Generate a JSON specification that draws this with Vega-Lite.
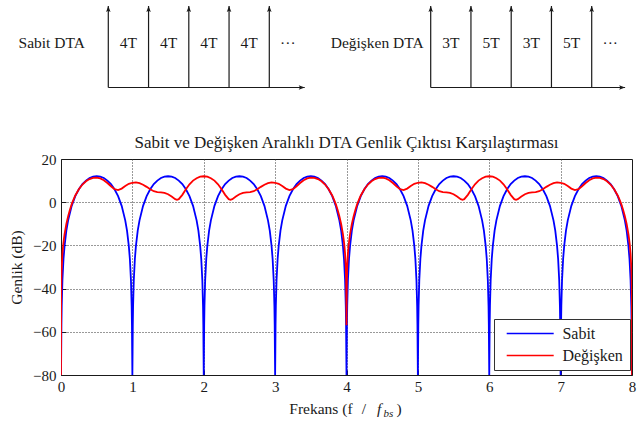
{
  "$schema": "https://vega.github.io/schema/vega-lite/v6.json",
  "autosize": {"type": "none"},
  "padding": {"left": 61, "top": 159, "right": 12, "bottom": 50},
  "width": 571,
  "height": 216,
  "background": "white",
  "config": {
    "font": "Liberation Serif",
    "view": {"stroke": "#1a1a1a", "strokeWidth": 1}
  },
  "datasets": {
    "sabit": [
      {"f":0,"dB":-80},{"f":0.003,"dB":-69},{"f":0.006,"dB":-56.9},{"f":0.01,"dB":-48.1},{"f":0.02,"dB":-36},{"f":0.035,"dB":-26.3},{"f":0.05,"dB":-20.2},{"f":0.075,"dB":-13.2},{"f":0.1,"dB":-8.4},{"f":0.15,"dB":-1.7},{"f":0.2,"dB":2.8},{"f":0.25,"dB":6},{"f":0.3,"dB":8.4},{"f":0.35,"dB":10},{"f":0.4,"dB":11.2},{"f":0.45,"dB":11.8},{"f":0.5,"dB":12},{"f":0.55,"dB":11.8},{"f":0.6,"dB":11.2},{"f":0.65,"dB":10},{"f":0.7,"dB":8.4},{"f":0.75,"dB":6},{"f":0.8,"dB":2.8},{"f":0.85,"dB":-1.7},{"f":0.9,"dB":-8.4},{"f":0.925,"dB":-13.2},{"f":0.95,"dB":-20.2},{"f":0.965,"dB":-26.3},{"f":0.98,"dB":-36},{"f":0.99,"dB":-48.1},{"f":0.994,"dB":-56.9},{"f":0.997,"dB":-69},
      {"f":1,"dB":-80},{"f":1.003,"dB":-69},{"f":1.006,"dB":-56.9},{"f":1.01,"dB":-48.1},{"f":1.02,"dB":-36},{"f":1.035,"dB":-26.3},{"f":1.05,"dB":-20.2},{"f":1.075,"dB":-13.2},{"f":1.1,"dB":-8.4},{"f":1.15,"dB":-1.7},{"f":1.2,"dB":2.8},{"f":1.25,"dB":6},{"f":1.3,"dB":8.4},{"f":1.35,"dB":10},{"f":1.4,"dB":11.2},{"f":1.45,"dB":11.8},{"f":1.5,"dB":12},{"f":1.55,"dB":11.8},{"f":1.6,"dB":11.2},{"f":1.65,"dB":10},{"f":1.7,"dB":8.4},{"f":1.75,"dB":6},{"f":1.8,"dB":2.8},{"f":1.85,"dB":-1.7},{"f":1.9,"dB":-8.4},{"f":1.925,"dB":-13.2},{"f":1.95,"dB":-20.2},{"f":1.965,"dB":-26.3},{"f":1.98,"dB":-36},{"f":1.99,"dB":-48.1},{"f":1.994,"dB":-56.9},{"f":1.997,"dB":-69},
      {"f":2,"dB":-80},{"f":2.003,"dB":-69},{"f":2.006,"dB":-56.9},{"f":2.01,"dB":-48.1},{"f":2.02,"dB":-36},{"f":2.035,"dB":-26.3},{"f":2.05,"dB":-20.2},{"f":2.075,"dB":-13.2},{"f":2.1,"dB":-8.4},{"f":2.15,"dB":-1.7},{"f":2.2,"dB":2.8},{"f":2.25,"dB":6},{"f":2.3,"dB":8.4},{"f":2.35,"dB":10},{"f":2.4,"dB":11.2},{"f":2.45,"dB":11.8},{"f":2.5,"dB":12},{"f":2.55,"dB":11.8},{"f":2.6,"dB":11.2},{"f":2.65,"dB":10},{"f":2.7,"dB":8.4},{"f":2.75,"dB":6},{"f":2.8,"dB":2.8},{"f":2.85,"dB":-1.7},{"f":2.9,"dB":-8.4},{"f":2.925,"dB":-13.2},{"f":2.95,"dB":-20.2},{"f":2.965,"dB":-26.3},{"f":2.98,"dB":-36},{"f":2.99,"dB":-48.1},{"f":2.994,"dB":-56.9},{"f":2.997,"dB":-69},
      {"f":3,"dB":-80},{"f":3.003,"dB":-69},{"f":3.006,"dB":-56.9},{"f":3.01,"dB":-48.1},{"f":3.02,"dB":-36},{"f":3.035,"dB":-26.3},{"f":3.05,"dB":-20.2},{"f":3.075,"dB":-13.2},{"f":3.1,"dB":-8.4},{"f":3.15,"dB":-1.7},{"f":3.2,"dB":2.8},{"f":3.25,"dB":6},{"f":3.3,"dB":8.4},{"f":3.35,"dB":10},{"f":3.4,"dB":11.2},{"f":3.45,"dB":11.8},{"f":3.5,"dB":12},{"f":3.55,"dB":11.8},{"f":3.6,"dB":11.2},{"f":3.65,"dB":10},{"f":3.7,"dB":8.4},{"f":3.75,"dB":6},{"f":3.8,"dB":2.8},{"f":3.85,"dB":-1.7},{"f":3.9,"dB":-8.4},{"f":3.925,"dB":-13.2},{"f":3.95,"dB":-20.2},{"f":3.965,"dB":-26.3},{"f":3.98,"dB":-36},{"f":3.99,"dB":-48.1},{"f":3.994,"dB":-56.9},{"f":3.997,"dB":-69},
      {"f":4,"dB":-80},{"f":4.003,"dB":-69},{"f":4.006,"dB":-56.9},{"f":4.01,"dB":-48.1},{"f":4.02,"dB":-36},{"f":4.035,"dB":-26.3},{"f":4.05,"dB":-20.2},{"f":4.075,"dB":-13.2},{"f":4.1,"dB":-8.4},{"f":4.15,"dB":-1.7},{"f":4.2,"dB":2.8},{"f":4.25,"dB":6},{"f":4.3,"dB":8.4},{"f":4.35,"dB":10},{"f":4.4,"dB":11.2},{"f":4.45,"dB":11.8},{"f":4.5,"dB":12},{"f":4.55,"dB":11.8},{"f":4.6,"dB":11.2},{"f":4.65,"dB":10},{"f":4.7,"dB":8.4},{"f":4.75,"dB":6},{"f":4.8,"dB":2.8},{"f":4.85,"dB":-1.7},{"f":4.9,"dB":-8.4},{"f":4.925,"dB":-13.2},{"f":4.95,"dB":-20.2},{"f":4.965,"dB":-26.3},{"f":4.98,"dB":-36},{"f":4.99,"dB":-48.1},{"f":4.994,"dB":-56.9},{"f":4.997,"dB":-69},
      {"f":5,"dB":-80},{"f":5.003,"dB":-69},{"f":5.006,"dB":-56.9},{"f":5.01,"dB":-48.1},{"f":5.02,"dB":-36},{"f":5.035,"dB":-26.3},{"f":5.05,"dB":-20.2},{"f":5.075,"dB":-13.2},{"f":5.1,"dB":-8.4},{"f":5.15,"dB":-1.7},{"f":5.2,"dB":2.8},{"f":5.25,"dB":6},{"f":5.3,"dB":8.4},{"f":5.35,"dB":10},{"f":5.4,"dB":11.2},{"f":5.45,"dB":11.8},{"f":5.5,"dB":12},{"f":5.55,"dB":11.8},{"f":5.6,"dB":11.2},{"f":5.65,"dB":10},{"f":5.7,"dB":8.4},{"f":5.75,"dB":6},{"f":5.8,"dB":2.8},{"f":5.85,"dB":-1.7},{"f":5.9,"dB":-8.4},{"f":5.925,"dB":-13.2},{"f":5.95,"dB":-20.2},{"f":5.965,"dB":-26.3},{"f":5.98,"dB":-36},{"f":5.99,"dB":-48.1},{"f":5.994,"dB":-56.9},{"f":5.997,"dB":-69},
      {"f":6,"dB":-80},{"f":6.003,"dB":-69},{"f":6.006,"dB":-56.9},{"f":6.01,"dB":-48.1},{"f":6.02,"dB":-36},{"f":6.035,"dB":-26.3},{"f":6.05,"dB":-20.2},{"f":6.075,"dB":-13.2},{"f":6.1,"dB":-8.4},{"f":6.15,"dB":-1.7},{"f":6.2,"dB":2.8},{"f":6.25,"dB":6},{"f":6.3,"dB":8.4},{"f":6.35,"dB":10},{"f":6.4,"dB":11.2},{"f":6.45,"dB":11.8},{"f":6.5,"dB":12},{"f":6.55,"dB":11.8},{"f":6.6,"dB":11.2},{"f":6.65,"dB":10},{"f":6.7,"dB":8.4},{"f":6.75,"dB":6},{"f":6.8,"dB":2.8},{"f":6.85,"dB":-1.7},{"f":6.9,"dB":-8.4},{"f":6.925,"dB":-13.2},{"f":6.95,"dB":-20.2},{"f":6.965,"dB":-26.3},{"f":6.98,"dB":-36},{"f":6.99,"dB":-48.1},{"f":6.994,"dB":-56.9},{"f":6.997,"dB":-69},
      {"f":7,"dB":-80},{"f":7.003,"dB":-69},{"f":7.006,"dB":-56.9},{"f":7.01,"dB":-48.1},{"f":7.02,"dB":-36},{"f":7.035,"dB":-26.3},{"f":7.05,"dB":-20.2},{"f":7.075,"dB":-13.2},{"f":7.1,"dB":-8.4},{"f":7.15,"dB":-1.7},{"f":7.2,"dB":2.8},{"f":7.25,"dB":6},{"f":7.3,"dB":8.4},{"f":7.35,"dB":10},{"f":7.4,"dB":11.2},{"f":7.45,"dB":11.8},{"f":7.5,"dB":12},{"f":7.55,"dB":11.8},{"f":7.6,"dB":11.2},{"f":7.65,"dB":10},{"f":7.7,"dB":8.4},{"f":7.75,"dB":6},{"f":7.8,"dB":2.8},{"f":7.85,"dB":-1.7},{"f":7.9,"dB":-8.4},{"f":7.925,"dB":-13.2},{"f":7.95,"dB":-20.2},{"f":7.965,"dB":-26.3},{"f":7.98,"dB":-36},{"f":7.99,"dB":-48.1},{"f":7.994,"dB":-56.9},{"f":7.997,"dB":-69},
      {"f":8,"dB":-80}
    ],
    "degisken": [
      {"f":0,"dB":-80},{"f":0.001,"dB":-50.1},{"f":0.005,"dB":-36.1},{"f":0.01,"dB":-30},{"f":0.02,"dB":-23.8},{"f":0.03,"dB":-20},{"f":0.04,"dB":-17.2},{"f":0.05,"dB":-14.8},{"f":0.075,"dB":-10.1},{"f":0.1,"dB":-6.5},{"f":0.125,"dB":-3.5},{"f":0.15,"dB":-0.9},{"f":0.175,"dB":1.2},{"f":0.2,"dB":3.1},{"f":0.25,"dB":6},{"f":0.3,"dB":8.2},{"f":0.35,"dB":9.7},{"f":0.4,"dB":10.7},{"f":0.45,"dB":11.3},{"f":0.5,"dB":11.4},{"f":0.55,"dB":11},{"f":0.6,"dB":10.2},{"f":0.65,"dB":8.9},{"f":0.7,"dB":7.4},{"f":0.75,"dB":6},{"f":0.8,"dB":5.6},{"f":0.85,"dB":6.3},{"f":0.9,"dB":7.5},{"f":0.95,"dB":8.5},{"f":1,"dB":9},{"f":1.05,"dB":9.2},{"f":1.1,"dB":8.8},{"f":1.15,"dB":8.1},{"f":1.2,"dB":7.1},{"f":1.25,"dB":6},{"f":1.3,"dB":5.1},{"f":1.35,"dB":4.7},{"f":1.4,"dB":4.5},{"f":1.45,"dB":4.3},{"f":1.5,"dB":3.7},{"f":1.55,"dB":2.6},{"f":1.6,"dB":1.4},{"f":1.625,"dB":1.1},{"f":1.65,"dB":1.4},{"f":1.7,"dB":3.4},{"f":1.75,"dB":6},{"f":1.8,"dB":8.3},{"f":1.85,"dB":10},{"f":1.9,"dB":11.1},{"f":1.95,"dB":11.8},{"f":2,"dB":12},
      {"f":2.05,"dB":11.8},{"f":2.1,"dB":11.1},{"f":2.15,"dB":10},{"f":2.2,"dB":8.3},{"f":2.25,"dB":6},{"f":2.3,"dB":3.4},{"f":2.35,"dB":1.4},{"f":2.375,"dB":1.1},{"f":2.4,"dB":1.4},{"f":2.45,"dB":2.6},{"f":2.5,"dB":3.7},{"f":2.55,"dB":4.3},{"f":2.6,"dB":4.5},{"f":2.65,"dB":4.7},{"f":2.7,"dB":5.1},{"f":2.75,"dB":6},{"f":2.8,"dB":7.1},{"f":2.85,"dB":8.1},{"f":2.9,"dB":8.8},{"f":2.95,"dB":9.2},{"f":3,"dB":9},{"f":3.05,"dB":8.5},{"f":3.1,"dB":7.5},{"f":3.15,"dB":6.3},{"f":3.2,"dB":5.6},{"f":3.25,"dB":6},{"f":3.3,"dB":7.4},{"f":3.35,"dB":8.9},{"f":3.4,"dB":10.2},{"f":3.45,"dB":11},{"f":3.5,"dB":11.4},{"f":3.55,"dB":11.3},{"f":3.6,"dB":10.7},{"f":3.65,"dB":9.7},{"f":3.7,"dB":8.2},{"f":3.75,"dB":6},{"f":3.8,"dB":3.1},{"f":3.825,"dB":1.2},{"f":3.85,"dB":-0.9},{"f":3.875,"dB":-3.5},{"f":3.9,"dB":-6.5},{"f":3.925,"dB":-10.1},{"f":3.95,"dB":-14.8},{"f":3.96,"dB":-17.2},{"f":3.97,"dB":-20},{"f":3.98,"dB":-23.8},{"f":3.99,"dB":-30},{"f":3.995,"dB":-36.1},{"f":3.999,"dB":-50.1},{"f":4,"dB":-57},
      {"f":4.001,"dB":-50.1},{"f":4.005,"dB":-36.1},{"f":4.01,"dB":-30},{"f":4.02,"dB":-23.8},{"f":4.03,"dB":-20},{"f":4.04,"dB":-17.2},{"f":4.05,"dB":-14.8},{"f":4.075,"dB":-10.1},{"f":4.1,"dB":-6.5},{"f":4.125,"dB":-3.5},{"f":4.15,"dB":-0.9},{"f":4.175,"dB":1.2},{"f":4.2,"dB":3.1},{"f":4.25,"dB":6},{"f":4.3,"dB":8.2},{"f":4.35,"dB":9.7},{"f":4.4,"dB":10.7},{"f":4.45,"dB":11.3},{"f":4.5,"dB":11.4},{"f":4.55,"dB":11},{"f":4.6,"dB":10.2},{"f":4.65,"dB":8.9},{"f":4.7,"dB":7.4},{"f":4.75,"dB":6},{"f":4.8,"dB":5.6},{"f":4.85,"dB":6.3},{"f":4.9,"dB":7.5},{"f":4.95,"dB":8.5},{"f":5,"dB":9},{"f":5.05,"dB":9.2},{"f":5.1,"dB":8.8},{"f":5.15,"dB":8.1},{"f":5.2,"dB":7.1},{"f":5.25,"dB":6},{"f":5.3,"dB":5.1},{"f":5.35,"dB":4.7},{"f":5.4,"dB":4.5},{"f":5.45,"dB":4.3},{"f":5.5,"dB":3.7},{"f":5.55,"dB":2.6},{"f":5.6,"dB":1.4},{"f":5.625,"dB":1.1},{"f":5.65,"dB":1.4},{"f":5.7,"dB":3.4},{"f":5.75,"dB":6},{"f":5.8,"dB":8.3},{"f":5.85,"dB":10},{"f":5.9,"dB":11.1},{"f":5.95,"dB":11.8},{"f":6,"dB":12},
      {"f":6.05,"dB":11.8},{"f":6.1,"dB":11.1},{"f":6.15,"dB":10},{"f":6.2,"dB":8.3},{"f":6.25,"dB":6},{"f":6.3,"dB":3.4},{"f":6.35,"dB":1.4},{"f":6.375,"dB":1.1},{"f":6.4,"dB":1.4},{"f":6.45,"dB":2.6},{"f":6.5,"dB":3.7},{"f":6.55,"dB":4.3},{"f":6.6,"dB":4.5},{"f":6.65,"dB":4.7},{"f":6.7,"dB":5.1},{"f":6.75,"dB":6},{"f":6.8,"dB":7.1},{"f":6.85,"dB":8.1},{"f":6.9,"dB":8.8},{"f":6.95,"dB":9.2},{"f":7,"dB":9},{"f":7.05,"dB":8.5},{"f":7.1,"dB":7.5},{"f":7.15,"dB":6.3},{"f":7.2,"dB":5.6},{"f":7.25,"dB":6},{"f":7.3,"dB":7.4},{"f":7.35,"dB":8.9},{"f":7.4,"dB":10.2},{"f":7.45,"dB":11},{"f":7.5,"dB":11.4},{"f":7.55,"dB":11.3},{"f":7.6,"dB":10.7},{"f":7.65,"dB":9.7},{"f":7.7,"dB":8.2},{"f":7.75,"dB":6},{"f":7.8,"dB":3.1},{"f":7.825,"dB":1.2},{"f":7.85,"dB":-0.9},{"f":7.875,"dB":-3.5},{"f":7.9,"dB":-6.5},{"f":7.925,"dB":-10.1},{"f":7.95,"dB":-14.8},{"f":7.96,"dB":-17.2},{"f":7.97,"dB":-20},{"f":7.98,"dB":-23.8},{"f":7.99,"dB":-30},{"f":7.995,"dB":-36.1},{"f":7.999,"dB":-50.1},{"f":8,"dB":-80}
    ],
    "sabitDarbe": [{"an":0},{"an":1},{"an":2},{"an":3},{"an":4}],
    "sabitAralik": [{"an":0.5,"etiket":"4T"},{"an":1.5,"etiket":"4T"},{"an":2.5,"etiket":"4T"},{"an":3.5,"etiket":"4T"},{"an":4.46,"etiket":"···"}],
    "degiskenDarbe": [{"an":0},{"an":1},{"an":2},{"an":3},{"an":4}],
    "degiskenAralik": [{"an":0.5,"etiket":"3T"},{"an":1.5,"etiket":"5T"},{"an":2.5,"etiket":"3T"},{"an":3.5,"etiket":"5T"},{"an":4.46,"etiket":"···"}]
  },
  "layer": [
    {
      "layer": [
        {
          "data": {"name": "sabit"},
          "mark": {"type": "line", "strokeWidth": 1.8, "clip": true},
          "encoding": {
            "x": {
              "field": "f", "type": "quantitative",
              "scale": {"domain": [0, 8], "nice": false, "zero": false},
              "axis": {
                "values": [0, 1, 2, 3, 4, 5, 6, 7, 8], "format": "d", "title": null,
                "domain": false, "tickSize": -5, "tickColor": "#1a1a1a", "labelPadding": 9,
                "labelFont": "Liberation Serif", "labelFontSize": 15, "labelColor": "#1a1a1a", "labelFlush": false, "labelAngle": 0,
                "grid": true, "gridColor": "#333", "gridDash": [1, 2], "gridWidth": 1,
                "gridOpacity": {"condition": {"test": "datum.value === 0 || datum.value === 8", "value": 0}, "value": 1}
              }
            },
            "y": {
              "field": "dB", "type": "quantitative",
              "scale": {"domain": [-80, 20], "nice": false, "zero": false},
              "axis": {
                "values": [-80, -60, -40, -20, 0, 20], "format": "d", "title": "Genlik (dB)",
                "titleFont": "Liberation Serif", "titleFontSize": 15.5, "titleFontWeight": "normal", "titleColor": "#1a1a1a", "titlePadding": 8,
                "domain": false, "tickSize": -5, "tickColor": "#1a1a1a", "labelPadding": 10,
                "labelFont": "Liberation Serif", "labelFontSize": 15, "labelColor": "#1a1a1a", "labelFlush": false,
                "grid": true, "gridColor": "#333", "gridDash": [1, 2], "gridWidth": 1,
                "gridOpacity": {"condition": {"test": "datum.value === 20 || datum.value === -80", "value": 0}, "value": 1}
              }
            },
            "color": {
              "datum": "Sabit", "type": "nominal",
              "scale": {"domain": ["Sabit", "Değişken"], "range": ["#0000ff", "#ff0000"]},
              "legend": {
                "orient": "none", "legendX": 433, "legendY": 160, "title": null,
                "symbolType": "M-4.7,0L4.7,0", "symbolSize": 100, "symbolOffset": 21.7, "symbolStrokeWidth": 1.7,
                "labelOffset": 24.2, "padding": 6.5, "rowPadding": 6,
                "strokeColor": "#333", "fillColor": "white",
                "labelFont": "Liberation Serif", "labelFontSize": 16, "labelColor": "#1a1a1a"
              }
            }
          }
        },
        {
          "data": {"name": "degisken"},
          "mark": {"type": "line", "strokeWidth": 1.8, "clip": true},
          "encoding": {
            "x": {"field": "f", "type": "quantitative"},
            "y": {"field": "dB", "type": "quantitative"},
            "color": {"datum": "Değişken", "type": "nominal"}
          }
        },
        {
          "data": {"values": [{}]},
          "mark": {"type": "text", "text": "Sabit ve Değişken Aralıklı DTA Genlik Çıktısı Karşılaştırması", "font": "Liberation Serif", "align": "center", "baseline": "alphabetic", "fontSize": 17, "color": "#1a1a1a"},
          "encoding": {"x": {"datum": 4}, "y": {"datum": 25.1}}
        },
        {
          "data": {"values": [{}]},
          "mark": {"type": "text", "text": "Frekans (f", "font": "Liberation Serif", "align": "left", "baseline": "alphabetic", "fontSize": 15.5, "color": "#1a1a1a"},
          "encoding": {"x": {"datum": 3.199}, "y": {"datum": -98.06}}
        },
        {
          "data": {"values": [{}]},
          "mark": {"type": "text", "text": "/", "font": "Liberation Serif", "align": "center", "baseline": "alphabetic", "fontSize": 15.5, "color": "#1a1a1a"},
          "encoding": {"x": {"datum": 4.245}, "y": {"datum": -98.06}}
        },
        {
          "data": {"values": [{}]},
          "mark": {"type": "text", "text": "f", "font": "Liberation Serif", "align": "left", "baseline": "alphabetic", "fontSize": 15.5, "fontStyle": "italic", "color": "#1a1a1a"},
          "encoding": {"x": {"datum": 4.427}, "y": {"datum": -98.06}}
        },
        {
          "data": {"values": [{}]},
          "mark": {"type": "text", "text": "bs", "font": "Liberation Serif", "align": "left", "baseline": "alphabetic", "fontSize": 11, "fontStyle": "italic", "color": "#1a1a1a"},
          "encoding": {"x": {"datum": 4.518}, "y": {"datum": -99.44}}
        },
        {
          "data": {"values": [{}]},
          "mark": {"type": "text", "text": ")", "font": "Liberation Serif", "align": "left", "baseline": "alphabetic", "fontSize": 15.5, "color": "#1a1a1a"},
          "encoding": {"x": {"datum": 4.7}, "y": {"datum": -98.06}}
        }
      ]
    },
    {
      "data": {"name": "sabitDarbe"},
      "layer": [
        {
          "mark": {"type": "rule", "color": "#1a1a1a", "strokeWidth": 1.2},
          "encoding": {
            "x": {"field": "an", "type": "quantitative", "scale": {"domain": [-1.1752, 13.0111], "nice": false, "zero": false}, "axis": null},
            "y": {"datum": 0, "type": "quantitative", "scale": {"domain": [-3.5276, -0.8773], "nice": false, "zero": false}, "axis": null},
            "y2": {"datum": 1}
          }
        },
        {
          "mark": {"type": "point", "shape": "M0,0L-0.45,1.2L0,0.95L0.45,1.2Z", "filled": true, "size": 100, "color": "#1a1a1a", "opacity": 1},
          "encoding": {"x": {"field": "an", "type": "quantitative"}, "y": {"datum": 1, "type": "quantitative"}}
        },
        {
          "data": {"values": [{}]},
          "mark": {"type": "rule", "color": "#1a1a1a", "strokeWidth": 1.2},
          "encoding": {"x": {"datum": 0, "type": "quantitative"}, "x2": {"datum": 4.88}, "y": {"datum": 0, "type": "quantitative"}}
        },
        {
          "data": {"values": [{}]},
          "mark": {"type": "point", "shape": "M0,0L-0.45,1.2L0,0.95L0.45,1.2Z", "filled": true, "size": 100, "color": "#1a1a1a", "opacity": 1, "angle": 90},
          "encoding": {"x": {"datum": 4.88, "type": "quantitative"}, "y": {"datum": 0, "type": "quantitative"}}
        },
        {
          "data": {"name": "sabitAralik"},
          "mark": {"type": "text", "font": "Liberation Serif", "fontSize": 15.5, "baseline": "middle", "align": "center", "color": "#1a1a1a"},
          "encoding": {"x": {"field": "an", "type": "quantitative"}, "y": {"datum": 0.55, "type": "quantitative"}, "text": {"field": "etiket"}}
        },
        {
          "data": {"values": [{}]},
          "mark": {"type": "text", "text": "Sabit DTA", "font": "Liberation Serif", "fontSize": 15.5, "baseline": "middle", "align": "center", "color": "#1a1a1a"},
          "encoding": {"x": {"datum": -1.406, "type": "quantitative"}, "y": {"datum": 0.55, "type": "quantitative"}}
        }
      ]
    },
    {
      "data": {"name": "degiskenDarbe"},
      "layer": [
        {
          "mark": {"type": "rule", "color": "#1a1a1a", "strokeWidth": 1.2},
          "encoding": {
            "x": {"field": "an", "type": "quantitative", "scale": {"domain": [-9.1851, 5.0012], "nice": false, "zero": false}, "axis": null},
            "y": {"datum": 0, "type": "quantitative", "scale": {"domain": [-3.5276, -0.8773], "nice": false, "zero": false}, "axis": null},
            "y2": {"datum": 1}
          }
        },
        {
          "mark": {"type": "point", "shape": "M0,0L-0.45,1.2L0,0.95L0.45,1.2Z", "filled": true, "size": 100, "color": "#1a1a1a", "opacity": 1},
          "encoding": {"x": {"field": "an", "type": "quantitative"}, "y": {"datum": 1, "type": "quantitative"}}
        },
        {
          "data": {"values": [{}]},
          "mark": {"type": "rule", "color": "#1a1a1a", "strokeWidth": 1.2},
          "encoding": {"x": {"datum": 0, "type": "quantitative"}, "x2": {"datum": 4.83}, "y": {"datum": 0, "type": "quantitative"}}
        },
        {
          "data": {"values": [{}]},
          "mark": {"type": "point", "shape": "M0,0L-0.45,1.2L0,0.95L0.45,1.2Z", "filled": true, "size": 100, "color": "#1a1a1a", "opacity": 1, "angle": 90},
          "encoding": {"x": {"datum": 4.83, "type": "quantitative"}, "y": {"datum": 0, "type": "quantitative"}}
        },
        {
          "data": {"name": "degiskenAralik"},
          "mark": {"type": "text", "font": "Liberation Serif", "fontSize": 15.5, "baseline": "middle", "align": "center", "color": "#1a1a1a"},
          "encoding": {"x": {"field": "an", "type": "quantitative"}, "y": {"datum": 0.55, "type": "quantitative"}, "text": {"field": "etiket"}}
        },
        {
          "data": {"values": [{}]},
          "mark": {"type": "text", "text": "Değişken DTA", "font": "Liberation Serif", "fontSize": 15.5, "baseline": "middle", "align": "center", "color": "#1a1a1a"},
          "encoding": {"x": {"datum": -1.329, "type": "quantitative"}, "y": {"datum": 0.55, "type": "quantitative"}}
        }
      ]
    }
  ],
  "resolve": {"scale": {"x": "independent", "y": "independent"}}
}
